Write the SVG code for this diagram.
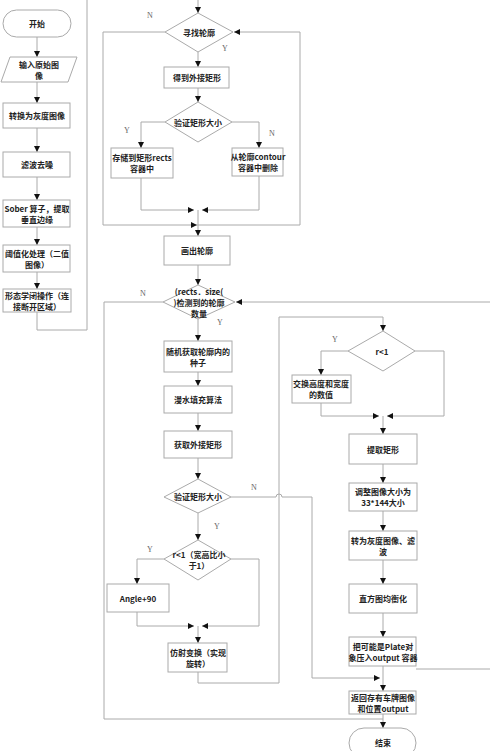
<svg xmlns="http://www.w3.org/2000/svg" width="490" height="751" viewBox="0 0 490 751">
<defs>
<marker id="ah" markerUnits="userSpaceOnUse" markerWidth="6" markerHeight="6" viewBox="0 0 6 6" refX="6" refY="3" orient="auto">
<path d="M0,0 L6,3 L0,6 Z" fill="#111"/>
</marker>
</defs>
<style>
.b{fill:#fff;stroke:#aaa;stroke-width:1}
.t{font-family:"Noto Sans CJK SC","Liberation Sans",sans-serif;font-size:8px;font-weight:bold;fill:#222;text-anchor:middle;dominant-baseline:central}
.l{font-family:"Liberation Serif",serif;font-size:8px;fill:#666;text-anchor:middle;dominant-baseline:central}
.c{fill:none;stroke:#aaa;stroke-width:1}
.a{fill:none;stroke:#aaa;stroke-width:1;marker-end:url(#ah)}
</style>
<rect width="490" height="751" fill="#fff"/>
<g id="connectors">
<path class="a" d="M37,37 V57"/>
<path class="a" d="M37,82 V103"/>
<path class="a" d="M37,128 V152"/>
<path class="a" d="M37,177 V200"/>
<path class="a" d="M37,227 V245"/>
<path class="a" d="M37,272 V289"/>
<path class="c" d="M37,312 V330 H87 V0"/>
<path class="a" d="M198,0 V13"/>
<path class="a" d="M198,52 V67"/>
<path class="a" d="M198,88 V102"/>
<path class="a" d="M165,122 H141 V148"/>
<path class="a" d="M232,122 H259 V148"/>
<path class="a" d="M141,178 V210 H194"/>
<path class="a" d="M259,176 V210 H202"/>
<path class="a" d="M198,210 V236"/>
<path class="a" d="M165,32 H103 V225 H197"/>
<path class="a" d="M197,225 H300 V32 H234"/>
<path class="a" d="M198,265 V285"/>
<path class="c" d="M163,302 H104 V719 H383"/>
<path class="a" d="M490,302 H236"/>
<path class="a" d="M198,319 V341"/>
<path class="a" d="M198,372 V386"/>
<path class="a" d="M198,413 V431"/>
<path class="a" d="M198,458 V479"/>
<path class="a" d="M231,497 H276 A3,3 0 0 1 282,497 H312 V678 H380"/>
<path class="a" d="M198,513 V540"/>
<path class="a" d="M164,559 H137 V584"/>
<path class="a" d="M231,559 H259 V626 H202"/>
<path class="a" d="M137,612 V626 H194"/>
<path class="a" d="M198,626 V643"/>
<path class="a" d="M198,672 V683 H279 V317 H383 V331"/>
<path class="a" d="M348,351 H321 V375"/>
<path class="a" d="M415,351 H444 V416 H387"/>
<path class="a" d="M321,403 V416 H379"/>
<path class="a" d="M383,416 V434"/>
<path class="a" d="M383,464 V483"/>
<path class="a" d="M383,511 V531"/>
<path class="a" d="M383,560 V584"/>
<path class="a" d="M383,613 V637"/>
<path class="a" d="M383,666 V691"/>
<path class="c" d="M416,669 H490"/>
<path class="a" d="M383,714 V728"/>
<text class="l" x="150" y="15">N</text>
<text class="l" x="225" y="48">Y</text>
<text class="l" x="127" y="130">Y</text>
<text class="l" x="272" y="133">N</text>
<text class="l" x="143" y="293">N</text>
<text class="l" x="220" y="322">Y</text>
<text class="l" x="254" y="487">N</text>
<text class="l" x="217" y="526">Y</text>
<text class="l" x="150" y="549">Y</text>
<text class="l" x="335" y="339">Y</text>
</g>
<g id="start"><rect class="b" x="3" y="10" width="68" height="27" rx="13.5"/><text class="t" x="37" y="23.5">开始</text></g>
<g id="input"><polygon class="b" points="10,57 77,57 68,82 1,82"/><text class="t" x="39" y="64">输入原始图</text><text class="t" x="39" y="75">像</text></g>
<g id="gray"><rect class="b" x="3" y="103" width="67" height="25"/><text class="t" x="37" y="115.5">转换为灰度图像</text></g>
<g id="filter"><rect class="b" x="3" y="152" width="67" height="25"/><text class="t" x="37" y="164.5">滤波去噪</text></g>
<g id="sober"><rect class="b" x="3" y="200" width="67" height="27"/><text class="t" x="37" y="208">Sober 算子，提取</text><text class="t" x="37" y="219">垂直边缘</text></g>
<g id="thresh"><rect class="b" x="3" y="245" width="67" height="27"/><text class="t" x="37" y="253">阈值化处理（二值</text><text class="t" x="37" y="264">图像）</text></g>
<g id="morph"><rect class="b" x="3" y="289" width="68" height="23"/><text class="t" x="37" y="295">形态学闭操作（连</text><text class="t" x="37" y="306">接断开区域）</text></g>
<g id="find"><polygon class="b" points="198,13 233,32 198,52 165,32"/><text class="t" x="199" y="32">寻找轮廓</text></g>
<g id="bound1"><rect class="b" x="164" y="67" width="65" height="21"/><text class="t" x="197" y="77.5">得到外接矩形</text></g>
<g id="verify1"><polygon class="b" points="198,102 232,122 198,142 165,122"/><text class="t" x="198" y="122">验证矩形大小</text></g>
<g id="store"><rect class="b" x="111" y="148" width="62" height="30"/><text class="t" x="142" y="157">存储到矩形rects</text><text class="t" x="142" y="168">容器中</text></g>
<g id="delete"><rect class="b" x="232" y="148" width="51" height="28"/><text class="t" x="258" y="156.5">从轮廓contour</text><text class="t" x="258" y="167.5">容器中删除</text></g>
<g id="draw"><rect class="b" x="164" y="236" width="66" height="29"/><text class="t" x="197" y="250.5">画出轮廓</text></g>
<g id="count"><polygon class="b" points="198,285 235,302 198,319 163,302"/><text class="t" x="199" y="291">(rects．size(</text><text class="t" x="199" y="302">)检测到的轮廓</text><text class="t" x="199" y="313">数量</text></g>
<g id="seed"><rect class="b" x="164" y="341" width="68" height="31"/><text class="t" x="198" y="351">随机获取轮廓内的</text><text class="t" x="198" y="362">种子</text></g>
<g id="flood"><rect class="b" x="164" y="386" width="68" height="27"/><text class="t" x="198" y="399.5">漫水填充算法</text></g>
<g id="bound2"><rect class="b" x="164" y="431" width="68" height="27"/><text class="t" x="198" y="444.5">获取外接矩形</text></g>
<g id="verify2"><polygon class="b" points="198,479 231,497 198,513 164,497"/><text class="t" x="198" y="496">验证矩形大小</text></g>
<g id="ratio"><polygon class="b" points="198,540 231,559 198,580 164,559"/><text class="t" x="199" y="554">r&lt;1（宽高比小</text><text class="t" x="199" y="565">于1）</text></g>
<g id="angle"><rect class="b" x="107" y="584" width="62" height="28"/><text class="t" x="138" y="598">Angle+90</text></g>
<g id="affine"><rect class="b" x="168" y="643" width="59" height="29"/><text class="t" x="198" y="652">仿射变换（实现</text><text class="t" x="198" y="663">旋转）</text></g>
<g id="rlt1"><polygon class="b" points="383,331 415,351 383,371 348,351"/><text class="t" x="382" y="351">r&lt;1</text></g>
<g id="swap"><rect class="b" x="292" y="375" width="59" height="28"/><text class="t" x="321" y="383.5">交换高度和宽度</text><text class="t" x="321" y="394.5">的数值</text></g>
<g id="extract"><rect class="b" x="349" y="434" width="68" height="30"/><text class="t" x="383" y="449">提取矩形</text></g>
<g id="resize"><rect class="b" x="349" y="483" width="68" height="28"/><text class="t" x="383" y="491.5">调整图像大小为</text><text class="t" x="383" y="502.5">33*144大小</text></g>
<g id="gray2"><rect class="b" x="349" y="531" width="68" height="29"/><text class="t" x="383" y="540">转为灰度图像、滤</text><text class="t" x="383" y="551">波</text></g>
<g id="hist"><rect class="b" x="349" y="584" width="68" height="29"/><text class="t" x="383" y="598.5">直方图均衡化</text></g>
<g id="push"><rect class="b" x="349" y="637" width="67" height="29"/><text class="t" x="383" y="646">把可能是Plate对</text><text class="t" x="383" y="657">象压入output 容器</text></g>
<g id="return"><rect class="b" x="349" y="691" width="67" height="23"/><text class="t" x="383" y="697">返回存有车牌图像</text><text class="t" x="383" y="708">和位置output</text></g>
<g id="end"><rect class="b" x="349" y="728" width="67" height="30" rx="15"/><text class="t" x="383" y="742">结束</text></g>
</svg>
